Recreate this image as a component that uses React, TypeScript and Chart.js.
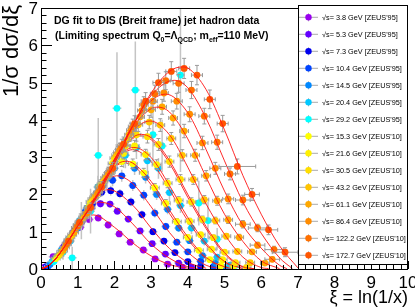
import React, { useEffect, useRef } from "react";
import { Chart, registerables } from "chart.js";
Chart.register(...registerables);

// ---------- legend / series meta ----------
const LABELS = [
  "√s= 3.8 GeV [ZEUS'95]", "√s= 5.3 GeV [ZEUS'95]", "√s= 7.3 GeV [ZEUS'95]",
  "√s= 10.4 GeV [ZEUS'95]", "√s= 14.5 GeV [ZEUS'95]", "√s= 20.4 GeV [ZEUS'95]",
  "√s= 29.2 GeV [ZEUS'95]", "√s= 15.3 GeV [ZEUS'10]", "√s= 21.6 GeV [ZEUS'10]",
  "√s= 30.5 GeV [ZEUS'10]", "√s= 43.2 GeV [ZEUS'10]", "√s= 61.1 GeV [ZEUS'10]",
  "√s= 86.4 GeV [ZEUS'10]", "√s= 122.2 GeV [ZEUS'10]", "√s= 172.7 GeV [ZEUS'10]",
];
const COLORS = [
  "#9900ee", "#6400ff", "#0000ee", "#0044ff", "#0088ff", "#00c8ff", "#00ffff",
  "#ffff00", "#fff000", "#ffde00", "#ffc400", "#ffa800", "#ff8c00", "#ff7000", "#ff5500",
];
const IS_ZEUS95 = [true, true, true, true, true, true, true, false, false, false, false, false, false, false, false];

// ---------- data: xi, value, y-error, x-error ----------
const XI_3_8 = [0.1, 0.33, 0.58, 0.83, 1.07, 1.31, 1.56, 1.83, 2.13, 2.43, 2.79, 3.11, 3.45, 3.85];
const V_3_8 = [0.05, 0.33, 0.55, 0.88, 1.12, 1.33, 1.37, 1.18, 0.94, 0.72, 0.51, 0.27, 0.13, 0.05];
const EY_3_8 = [0.03, 0.05, 0.06, 0.08, 0.08, 0.1, 0.1, 0.09, 0.08, 0.07, 0.06, 0.05, 0.04, 0.03];

const XI_5_3 = [0.12, 0.37, 0.62, 0.87, 1.12, 1.37, 1.62, 1.88, 2.08, 2.38, 2.7, 3.03, 3.39, 3.75, 4.1];
const V_5_3 = [0.05, 0.28, 0.6, 0.97, 1.28, 1.63, 1.75, 1.74, 1.55, 1.34, 1.02, 0.68, 0.4, 0.16, 0.05];
const EY_5_3 = [0.03, 0.05, 0.07, 0.08, 0.09, 0.1, 0.1, 0.1, 0.1, 0.09, 0.08, 0.07, 0.06, 0.05, 0.03];

const XI_7_3 = [0.15, 0.4, 0.65, 0.9, 1.15, 1.4, 1.65, 1.9, 2.15, 2.45, 2.75, 3.05, 3.35, 3.65, 4.0, 4.35];
const V_7_3 = [0.06, 0.3, 0.6, 1.02, 1.4, 1.74, 2.06, 2.1, 2.02, 1.8, 1.46, 1.0, 0.75, 0.44, 0.2, 0.07];
const EY_7_3 = [0.03, 0.06, 0.08, 0.1, 0.12, 0.12, 0.13, 0.13, 0.12, 0.12, 0.11, 0.1, 0.09, 0.07, 0.05, 0.04];

const XI_10_4 = [0.2, 0.45, 0.7, 0.95, 1.2, 1.45, 1.7, 1.95, 2.2, 2.5, 2.8, 3.1, 3.4, 3.7, 4.0, 4.35, 4.7];
const V_10_4 = [0.08, 0.34, 0.72, 1.05, 1.53, 1.9, 2.25, 2.38, 2.5, 2.24, 1.98, 1.5, 1.14, 0.72, 0.46, 0.21, 0.06];
const EY_10_4 = [0.04, 0.07, 0.1, 0.12, 0.14, 0.15, 0.16, 0.16, 0.16, 0.15, 0.14, 0.12, 0.1, 0.08, 0.06, 0.05, 0.04];

const XI_14_5 = [0.25, 0.5, 0.75, 1.0, 1.25, 1.5, 1.75, 2.0, 2.25, 2.55, 2.85, 3.15, 3.45, 3.75, 4.05, 4.4, 4.75, 5.05];
const V_14_5 = [0.13, 0.38, 0.8, 1.1, 1.63, 2.0, 2.45, 2.7, 2.9, 2.7, 2.46, 2.0, 1.6, 1.1, 0.76, 0.36, 0.16, 0.04];
const EY_14_5 = [0.05, 0.08, 0.1, 0.13, 0.15, 0.17, 0.18, 0.19, 0.19, 0.18, 0.17, 0.15, 0.13, 0.11, 0.08, 0.06, 0.04, 0.03];

const XI_20_4 = [0.3, 0.55, 0.8, 1.05, 1.3, 1.55, 1.8, 2.05, 2.3, 2.6, 2.9, 3.2, 3.5, 3.8, 4.1, 4.45, 4.8, 5.15];
const V_20_4 = [0.2, 0.5, 0.75, 1.3, 1.6, 2.2, 2.45, 3.0, 3.05, 3.25, 2.9, 2.7, 2.05, 1.7, 1.1, 0.75, 0.32, 0.1];
const EY_20_4 = [0.06, 0.1, 0.14, 0.2, 0.25, 0.3, 0.3, 0.35, 0.35, 0.3, 0.3, 0.28, 0.25, 0.2, 0.16, 0.12, 0.08, 0.05];

const XI_29_2 = [0.35, 0.6, 0.85, 1.1, 1.35, 1.56, 2.07, 2.57, 3.05, 3.3, 3.8, 4.3, 4.55, 4.8, 5.3];
const V_29_2 = [0.2, 0.45, 0.3, 1.3, 1.55, 3.05, 4.31, 4.8, 3.6, 3.3, 5.2, 1.77, 1.3, 0.8, 0.1];
const EY_29_2 = [0.1, 0.2, 0.3, 0.5, 0.6, 1.0, 1.5, 1.3, 0.8, 0.7, 2.6, 0.6, 0.5, 0.3, 0.1];

const XI_15_3 = [0.4, 0.7, 1.0, 1.3, 1.6, 1.9, 2.2, 2.5, 2.8, 3.1, 3.4, 3.7, 4.0, 4.3, 4.6, 4.9];
const V_15_3 = [0.28, 0.66, 1.18, 1.66, 2.22, 2.6, 2.88, 2.82, 2.58, 2.18, 1.76, 1.27, 0.85, 0.5, 0.25, 0.09];
const EY_15_3 = [0.04, 0.06, 0.08, 0.1, 0.12, 0.13, 0.13, 0.13, 0.12, 0.11, 0.1, 0.08, 0.06, 0.05, 0.04, 0.03];

const XI_21_6 = [0.45, 0.75, 1.05, 1.35, 1.65, 1.95, 2.25, 2.55, 2.85, 3.15, 3.45, 3.75, 4.05, 4.35, 4.65, 4.95, 5.25];
const V_21_6 = [0.33, 0.78, 1.22, 1.8, 2.27, 2.83, 3.1, 3.3, 3.07, 2.8, 2.3, 1.84, 1.28, 0.92, 0.53, 0.25, 0.08];
const EY_21_6 = [0.04, 0.07, 0.09, 0.11, 0.13, 0.14, 0.15, 0.15, 0.14, 0.13, 0.12, 0.1, 0.08, 0.06, 0.05, 0.04, 0.03];

const XI_30_5 = [0.5, 0.8, 1.1, 1.4, 1.7, 2.0, 2.3, 2.6, 2.9, 3.2, 3.5, 3.8, 4.1, 4.4, 4.7, 5.0, 5.3, 5.6];
const V_30_5 = [0.38, 0.85, 1.3, 1.87, 2.35, 2.97, 3.3, 3.6, 3.55, 3.34, 2.88, 2.4, 1.8, 1.33, 0.84, 0.45, 0.17, 0.04];
const EY_30_5 = [0.05, 0.07, 0.1, 0.12, 0.14, 0.15, 0.16, 0.17, 0.17, 0.16, 0.15, 0.13, 0.11, 0.09, 0.07, 0.05, 0.04, 0.03];

const XI_43_2 = [0.55, 0.85, 1.15, 1.45, 1.75, 2.05, 2.35, 2.65, 2.95, 3.25, 3.55, 3.85, 4.15, 4.45, 4.75, 5.05, 5.35, 5.7];
const V_43_2 = [0.45, 0.92, 1.38, 1.92, 2.44, 3.05, 3.47, 3.87, 3.94, 3.86, 3.5, 3.05, 2.4, 1.86, 1.3, 0.88, 0.47, 0.17];
const EY_43_2 = [0.05, 0.08, 0.1, 0.12, 0.14, 0.16, 0.17, 0.18, 0.18, 0.17, 0.16, 0.15, 0.13, 0.11, 0.09, 0.07, 0.05, 0.04];

const XI_61_1 = [0.6, 0.9, 1.2, 1.5, 1.8, 2.1, 2.4, 2.7, 3.0, 3.3, 3.6, 3.9, 4.2, 4.5, 4.8, 5.1, 5.4, 5.75, 6.1];
const V_61_1 = [0.5, 0.98, 1.44, 1.98, 2.5, 3.13, 3.6, 4.08, 4.27, 4.35, 4.05, 3.7, 3.05, 2.5, 1.83, 1.32, 0.85, 0.46, 0.16];
const EY_61_1 = [0.06, 0.08, 0.1, 0.12, 0.14, 0.16, 0.18, 0.19, 0.2, 0.2, 0.19, 0.18, 0.16, 0.14, 0.12, 0.1, 0.08, 0.06, 0.05];

const XI_86_4 = [0.65, 0.95, 1.25, 1.55, 1.85, 2.15, 2.45, 2.75, 3.05, 3.35, 3.7, 4.05, 4.4, 4.75, 5.1, 5.5, 5.9, 6.3];
const V_86_4 = [0.58, 1.1, 1.5, 2.05, 2.57, 3.2, 3.72, 4.25, 4.5, 4.72, 4.5, 4.15, 3.38, 2.7, 1.88, 1.2, 0.64, 0.26];
const EY_86_4 = [0.06, 0.09, 0.11, 0.13, 0.15, 0.17, 0.19, 0.2, 0.21, 0.22, 0.21, 0.2, 0.18, 0.16, 0.13, 0.1, 0.08, 0.06];
const EX_86_4 = [0.12, 0.12, 0.12, 0.12, 0.12, 0.12, 0.12, 0.12, 0.12, 0.12, 0.15, 0.15, 0.15, 0.15, 0.15, 0.2, 0.2, 0.2];

const XI_122_2 = [0.7, 1.0, 1.3, 1.6, 1.9, 2.2, 2.5, 2.8, 3.1, 3.4, 3.75, 4.1, 4.45, 4.8, 5.15, 5.5, 5.9, 6.35];
const V_122_2 = [0.68, 1.15, 1.6, 2.15, 2.65, 3.3, 3.82, 4.4, 4.7, 5.05, 4.98, 4.8, 4.1, 3.4, 2.55, 1.85, 1.1, 0.52];
const EY_122_2 = [0.07, 0.09, 0.11, 0.13, 0.15, 0.18, 0.2, 0.22, 0.23, 0.24, 0.24, 0.23, 0.21, 0.19, 0.16, 0.13, 0.1, 0.09];
const EX_122_2 = [0.12, 0.12, 0.12, 0.12, 0.12, 0.12, 0.12, 0.12, 0.12, 0.12, 0.15, 0.15, 0.15, 0.15, 0.15, 0.2, 0.25, 0.25];

const XI_172_7 = [0.75, 1.05, 1.35, 1.65, 1.95, 2.25, 2.55, 2.85, 3.2, 3.55, 3.9, 4.25, 4.6, 4.95, 5.35, 5.75, 6.2, 6.65];
const V_172_7 = [0.75, 1.25, 1.65, 2.2, 2.7, 3.35, 3.9, 4.5, 5.0, 5.3, 5.38, 5.2, 4.55, 3.9, 2.75, 2.0, 1.05, 0.45];
const EY_172_7 = [0.08, 0.1, 0.12, 0.14, 0.16, 0.19, 0.21, 0.23, 0.25, 0.26, 0.27, 0.26, 0.25, 0.22, 0.2, 0.16, 0.13, 0.12];
const EX_172_7 = [0.12, 0.12, 0.12, 0.12, 0.12, 0.12, 0.12, 0.12, 0.15, 0.15, 0.15, 0.15, 0.15, 0.15, 0.5, 0.2, 0.25, 0.35];

// ---------- DG fit curves: [xi, value] ----------
const FIT_3_8 = [[0, 0], [0.25, 0.12], [0.5, 0.4], [1, 1.15], [1.42, 1.45], [2, 1.12], [2.5, 0.7], [3, 0.35], [3.5, 0.12], [4, 0.02]];
const FIT_5_3 = [[0, 0], [0.25, 0.12], [0.5, 0.4], [1, 1.15], [1.5, 1.76], [1.63, 1.79], [2, 1.67], [2.5, 1.21], [3, 0.67], [3.5, 0.29], [4, 0.06], [4.3, 0.01]];
const FIT_7_3 = [[0, 0], [0.25, 0.12], [0.5, 0.4], [1, 1.15], [1.5, 1.93], [1.83, 2.13], [2.5, 1.71], [3, 1.1], [3.5, 0.55], [4, 0.18], [4.5, 0.02]];
const FIT_10_4 = [[0, 0], [0.25, 0.12], [0.5, 0.4], [1, 1.15], [1.5, 2.01], [2.06, 2.5], [2.5, 2.29], [3, 1.67], [3.5, 0.98], [4, 0.45], [4.5, 0.1], [4.9, 0.01]];
const FIT_14_5 = [[0, 0], [0.25, 0.12], [0.5, 0.4], [1, 1.14], [1.5, 2.03], [2, 2.73], [2.27, 2.84], [2.5, 2.78], [3, 2.26], [3.5, 1.49], [4, 0.79], [4.5, 0.28], [5, 0.05], [5.2, 0.01]];
const FIT_20_4 = [[0, 0], [0.25, 0.12], [0.5, 0.4], [1, 1.15], [1.5, 2.03], [2, 2.86], [2.49, 3.2], [3, 2.88], [3.5, 2.13], [4, 1.29], [4.5, 0.64], [5, 0.18], [5.5, 0.01]];
const FIT_29_2 = [[0, 0], [0.25, 0.12], [0.5, 0.4], [1, 1.14], [1.5, 2.01], [2, 2.92], [2.5, 3.5], [2.72, 3.57], [3, 3.47], [3.5, 2.84], [4, 1.92], [4.5, 1.08], [5, 0.4], [5.5, 0.05], [5.8, 0.01]];
const FIT_15_3 = [[0, 0], [0.25, 0.12], [0.5, 0.4], [1, 1.16], [1.5, 2.04], [2, 2.75], [2.3, 2.89], [2.5, 2.84], [3, 2.35], [3.5, 1.58], [4, 0.86], [4.5, 0.31], [5, 0.06], [5.25, 0.01]];
const FIT_21_6 = [[0, 0], [0.25, 0.12], [0.5, 0.4], [1, 1.15], [1.5, 2.03], [2, 2.88], [2.53, 3.26], [3, 2.99], [3.5, 2.24], [4, 1.38], [4.5, 0.69], [5, 0.2], [5.5, 0.01]];
const FIT_30_5 = [[0, 0], [0.25, 0.12], [0.5, 0.4], [1, 1.15], [1.5, 2.02], [2, 2.94], [2.5, 3.53], [2.74, 3.61], [3, 3.52], [3.5, 2.91], [4, 2.0], [4.5, 1.14], [5, 0.44], [5.5, 0.06], [5.8, 0.01]];
const FIT_43_2 = [[0, 0], [0.25, 0.12], [0.5, 0.4], [1, 1.15], [1.5, 1.99], [2, 2.94], [2.5, 3.7], [2.97, 3.97], [3.5, 3.6], [4, 2.73], [4.5, 1.74], [5, 0.93], [5.5, 0.32], [6, 0.04], [6.2, 0.01]];
const FIT_61_1 = [[0, 0], [0.25, 0.12], [0.5, 0.4], [1, 1.14], [1.5, 1.96], [2, 2.93], [2.5, 3.8], [3, 4.3], [3.19, 4.34], [3.5, 4.21], [4, 3.49], [4.5, 2.46], [5, 1.47], [5.5, 0.74], [6, 0.22], [6.5, 0.01]];
const FIT_86_4 = [[0, 0], [0.25, 0.12], [0.5, 0.4], [1, 1.15], [1.5, 1.94], [2, 2.9], [2.5, 3.85], [3, 4.51], [3.4, 4.69], [4, 4.19], [4.5, 3.2], [5, 2.09], [5.5, 1.17], [6, 0.56], [6.5, 0.1], [6.7, 0.01]];
const FIT_122_2 = [[0, 0], [0.25, 0.12], [0.5, 0.4], [1, 1.15], [1.5, 1.92], [2, 2.87], [2.5, 3.85], [3, 4.65], [3.63, 5.06], [4, 4.86], [4.5, 4.04], [5, 2.9], [5.5, 1.8], [6, 0.96], [6.5, 0.3], [6.85, 0.01]];
const FIT_172_7 = [[0, 0], [0.25, 0.12], [0.5, 0.4], [1, 1.15], [1.5, 1.89], [2, 2.82], [2.5, 3.83], [3, 4.72], [3.5, 5.3], [3.85, 5.42], [4, 5.39], [4.5, 4.81], [5, 3.73], [5.5, 2.51], [6, 1.47], [6.5, 0.62], [7, 0.03]];

const SERIES = [
  { xi: XI_3_8, v: V_3_8, ey: EY_3_8, ex: 0.12, fit: FIT_3_8 },
  { xi: XI_5_3, v: V_5_3, ey: EY_5_3, ex: 0.12, fit: FIT_5_3 },
  { xi: XI_7_3, v: V_7_3, ey: EY_7_3, ex: 0.12, fit: FIT_7_3 },
  { xi: XI_10_4, v: V_10_4, ey: EY_10_4, ex: 0.12, fit: FIT_10_4 },
  { xi: XI_14_5, v: V_14_5, ey: EY_14_5, ex: 0.12, fit: FIT_14_5 },
  { xi: XI_20_4, v: V_20_4, ey: EY_20_4, ex: 0.12, fit: FIT_20_4 },
  { xi: XI_29_2, v: V_29_2, ey: EY_29_2, ex: 0.12, fit: FIT_29_2 },
  { xi: XI_15_3, v: V_15_3, ey: EY_15_3, ex: 0.12, fit: FIT_15_3 },
  { xi: XI_21_6, v: V_21_6, ey: EY_21_6, ex: 0.12, fit: FIT_21_6 },
  { xi: XI_30_5, v: V_30_5, ey: EY_30_5, ex: 0.12, fit: FIT_30_5 },
  { xi: XI_43_2, v: V_43_2, ey: EY_43_2, ex: 0.12, fit: FIT_43_2 },
  { xi: XI_61_1, v: V_61_1, ey: EY_61_1, ex: 0.12, fit: FIT_61_1 },
  { xi: XI_86_4, v: V_86_4, ey: EY_86_4, ex: EX_86_4, fit: FIT_86_4 },
  { xi: XI_122_2, v: V_122_2, ey: EY_122_2, ex: EX_122_2, fit: FIT_122_2 },
  { xi: XI_172_7, v: V_172_7, ey: EY_172_7, ex: EX_172_7, fit: FIT_172_7 },
];

const X_TICKS = [0, 1, 2, 3, 4, 5, 6, 7, 8, 9, 10];
const Y_TICKS = [0, 1, 2, 3, 4, 5, 6, 7];
const TITLE_1 = "DG fit to DIS (Breit frame) jet hadron data";
const TITLE_2: [string, boolean][] = [
  ["(Limiting spectrum Q", false], ["0", true], ["=Λ", false], ["QCD", true],
  ["; m", false], ["eff", true], ["=110 MeV)", false],
];
const Y_TITLE = "1/σ dσ/dξ";
const X_TITLE = "ξ = ln(1/x)";
const FONT = "'Liberation Sans', Arial, sans-serif";

const errorBars = {
  id: "errorBars",
  beforeDatasetDraw(chart: any, args: any) {
    const ds: any = chart.data.datasets[args.index];
    if (!ds.errY) return;
    const { ctx, chartArea: a } = chart;
    const xs = chart.scales.x, ys = chart.scales.y;
    ctx.save();
    ctx.beginPath();
    ctx.rect(a.left, a.top, a.right - a.left, a.bottom - a.top);
    ctx.clip();
    ctx.strokeStyle = ds.errColor;
    ctx.lineWidth = ds.errWidth;
    ds.data.forEach((p: any, j: number) => {
      const ex = Array.isArray(ds.errX) ? ds.errX[j] : ds.errX;
      const px = xs.getPixelForValue(p.x), py = ys.getPixelForValue(p.y);
      const x0 = xs.getPixelForValue(p.x - ex), x1 = xs.getPixelForValue(p.x + ex);
      const y0 = ys.getPixelForValue(p.y - ds.errY[j]), y1 = ys.getPixelForValue(p.y + ds.errY[j]);
      ctx.beginPath();
      ctx.moveTo(x0, py); ctx.lineTo(x1, py);
      ctx.moveTo(px, y0); ctx.lineTo(px, y1);
      if (ds.caps) {
        ctx.moveTo(x0, py - 2); ctx.lineTo(x0, py + 2);
        ctx.moveTo(x1, py - 2); ctx.lineTo(x1, py + 2);
        ctx.moveTo(px - 2, y0); ctx.lineTo(px + 2, y0);
        ctx.moveTo(px - 2, y1); ctx.lineTo(px + 2, y1);
      }
      ctx.stroke();
    });
    ctx.restore();
  },
};

const decorations = {
  id: "decorations",
  afterDraw(chart: any) {
    const { ctx, chartArea: a } = chart;
    const xs = chart.scales.x, ys = chart.scales.y;
    ctx.save();
    // frame
    ctx.strokeStyle = "#000";
    ctx.lineWidth = 1;
    ctx.strokeRect(Math.round(a.left) + 0.5, Math.round(a.top) + 0.5, Math.round(a.right - a.left) - 1, Math.round(a.bottom - a.top));
    // ticks
    ctx.beginPath();
    for (let i = 0; i <= 50; i++) {
      const v = i * 0.2;
      const px = Math.round(xs.getPixelForValue(v)) + 0.5;
      const len = i % 5 === 0 ? 8 : 4;
      ctx.moveTo(px, a.bottom); ctx.lineTo(px, a.bottom - len);
    }
    for (let i = 0; i <= 35; i++) {
      const v = i * 0.2;
      const py = Math.round(ys.getPixelForValue(v)) + 0.5;
      const len = i % 5 === 0 ? 11 : 5.5;
      ctx.moveTo(a.left, py); ctx.lineTo(a.left + len, py);
    }
    ctx.stroke();
    // tick labels
    ctx.fillStyle = "#000";
    ctx.font = `17px ${FONT}`;
    ctx.textAlign = "center";
    ctx.textBaseline = "alphabetic";
    X_TICKS.forEach((t) => ctx.fillText(String(t), xs.getPixelForValue(t), 288));
    ctx.textAlign = "right";
    Y_TICKS.forEach((t) => ctx.fillText(String(t), 38, ys.getPixelForValue(t) + 6));
    // axis titles
    ctx.font = `18px ${FONT}`;
    ctx.textAlign = "right";
    ctx.fillText(X_TITLE, 408, 303);
    ctx.save();
    ctx.translate(18, 5);
    ctx.rotate(-Math.PI / 2);
    ctx.font = `22px ${FONT}`;
    ctx.textAlign = "right";
    ctx.fillText(Y_TITLE, 0, 0);
    ctx.restore();
    // header
    ctx.textAlign = "left";
    ctx.font = `bold 10.5px ${FONT}`;
    ctx.fillText(TITLE_1, 54, 24);
    let x = 55;
    TITLE_2.forEach(([s, sub]) => {
      ctx.font = sub ? `bold 7px ${FONT}` : `bold 10.5px ${FONT}`;
      ctx.fillText(s, x, sub ? 41.5 : 39);
      x += ctx.measureText(s).width;
    });
    // legend
    const lx0 = 298, ly0 = 5, lx1 = 408, ly1 = 265;
    ctx.fillStyle = "#fff";
    ctx.fillRect(lx0, ly0, lx1 - lx0, ly1 - ly0);
    ctx.strokeStyle = "#000";
    ctx.lineWidth = 1;
    ctx.strokeRect(lx0 + 0.5, ly0 + 0.5, lx1 - lx0 - 1, ly1 - ly0 - 1);
    LABELS.forEach((lab, i) => {
      const cy = 17.3 + 17.0 * i;
      ctx.strokeStyle = "#aaaaaa";
      ctx.lineWidth = 1;
      ctx.beginPath();
      ctx.moveTo(299, cy); ctx.lineTo(318, cy);
      ctx.moveTo(308.5, cy - 4); ctx.lineTo(308.5, cy + 4);
      ctx.stroke();
      ctx.fillStyle = COLORS[i];
      ctx.beginPath();
      ctx.arc(308.5, cy, 3.2, 0, Math.PI * 2);
      ctx.fill();
      ctx.fillStyle = "#000";
      ctx.font = `7.3px ${FONT}`;
      ctx.textAlign = "left";
      ctx.fillText(lab, 322, cy + 2.6);
    });
    ctx.restore();
  },
};

export default function App() {
  const ref = useRef<HTMLCanvasElement>(null);
  useEffect(() => {
    if (!ref.current) return;
    const datasets: any[] = [];
    SERIES.forEach((s, i) => {
      datasets.push({
        type: "scatter",
        label: LABELS[i],
        data: s.xi.map((x, j) => ({ x, y: s.v[j] })),
        backgroundColor: COLORS[i],
        borderWidth: 0,
        pointRadius: 3.4,
        pointHoverRadius: 3.4,
        errY: s.ey,
        errX: s.ex,
        errColor: IS_ZEUS95[i] ? "#c4c4c4" : "#9a9a9a",
        errWidth: IS_ZEUS95[i] ? 1.5 : 1,
        caps: !IS_ZEUS95[i],
        order: 200 - 2 * i,
      });
      datasets.push({
        type: "line",
        label: "fit " + LABELS[i],
        data: s.fit.map(([x, y]) => ({ x, y })),
        borderColor: "rgba(255,20,20,0.9)",
        borderWidth: 1,
        pointRadius: 0,
        fill: false,
        cubicInterpolationMode: "monotone",
        order: 199 - 2 * i,
      });
    });
    const chart = new Chart(ref.current, {
      type: "scatter",
      data: { datasets },
      options: {
        animation: false,
        responsive: false,
        devicePixelRatio: 1,
        layout: { padding: { left: 41, right: 7, top: 8, bottom: 39 } },
        plugins: { legend: { display: false }, tooltip: { enabled: false } },
        scales: {
          x: { type: "linear", min: 0, max: 10, display: false },
          y: { type: "linear", min: 0, max: 7, display: false },
        },
      },
      plugins: [errorBars, decorations],
    } as any);
    return () => chart.destroy();
  }, []);
  return (
    <div style={{ position: "absolute", left: 0, top: 0, width: 415, height: 308, background: "#fff" }}>
      <canvas ref={ref} width={415} height={308} style={{ display: "block" }} />
    </div>
  );
}
